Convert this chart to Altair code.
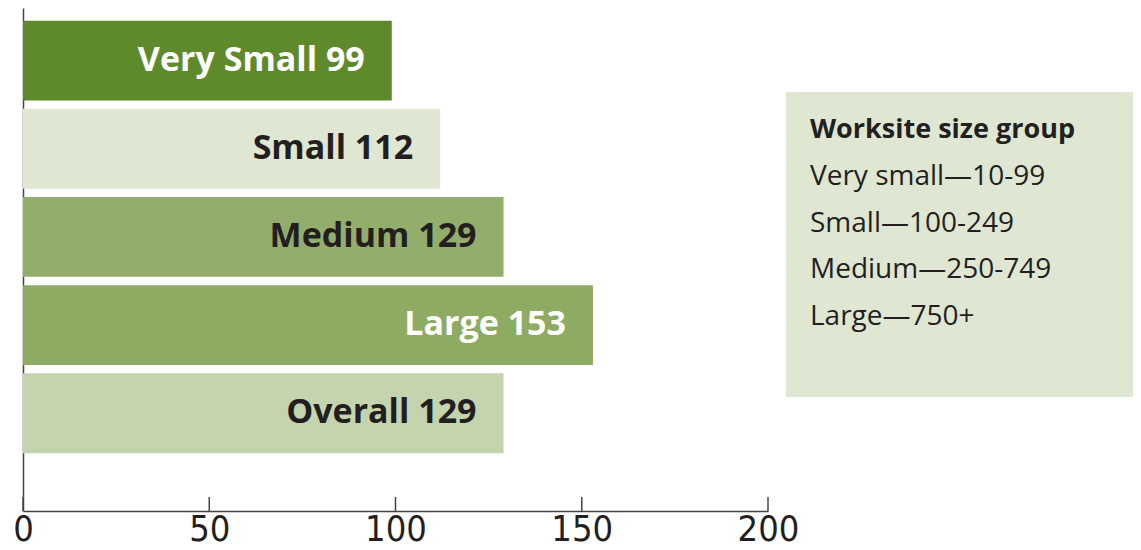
import altair as alt
import pandas as pd

categories = ["Very Small", "Small", "Medium", "Large", "Overall"]
values = [99, 112, 129, 153, 129]
bar_colors = ["#5e8a2c", "#dfe7d3", "#93ae6c", "#8dab63", "#c3d4ae"]
label_colors = ["#ffffff", "#231f20", "#231f20", "#ffffff", "#231f20"]
tick_values = [0, 50, 100, 150, 200]
legend_title = "Worksite size group"
legend_lines = ["Very small\u201410-99", "Small\u2014100-249", "Medium\u2014250-749", "Large\u2014750+"]

df = pd.DataFrame({
    "cat": categories,
    "value": values,
    "label": [f"{c} {v}" for c, v in zip(categories, values)],
    "lc": label_colors,
})
ticks_df = pd.DataFrame({"t": tick_values})

W, H = 745, 503

yscale = alt.Scale(domain=categories, paddingInner=0.094, paddingOuter=0.4, align=0.18)
xscale = alt.Scale(domain=[0, 200], nice=False)

base = alt.Chart(df)

bars = base.mark_bar().encode(
    x=alt.X("value:Q", scale=xscale,
            axis=alt.Axis(values=tick_values, ticks=False, grid=False, title=None,
                          domainColor="#444444", domainWidth=1.5,
                          labelFont="'DejaVu Sans Condensed', Roboto", labelFontSize=36,
                          labelColor="#231f20", labelPadding=1, labelFlush=False)),
    y=alt.Y("cat:N", scale=yscale,
            axis=alt.Axis(labels=False, ticks=False, title=None, grid=False,
                          domainColor="#444444", domainWidth=1.5)),
    color=alt.Color("cat:N", scale=alt.Scale(domain=categories, range=bar_colors), legend=None),
)

labels = base.mark_text(align="right", baseline="middle", dx=-27, font="Open Sans",
                        fontWeight="bold", fontSize=34).encode(
    x=alt.X("value:Q", scale=xscale),
    y=alt.Y("cat:N", scale=yscale),
    text="label:N",
    color=alt.Color("lc:N", scale=None),
)

tick_rules = alt.Chart(ticks_df).mark_rule(color="#444444", strokeWidth=1.5).encode(
    x=alt.X("t:Q", scale=xscale),
    y=alt.value(H - 14),
    y2=alt.value(H),
)

legend_box = alt.Chart(pd.DataFrame({"a": [0]})).mark_rect(color="#dfe7d3").encode(
    x=alt.value(763), x2=alt.value(1110), y=alt.value(84), y2=alt.value(389),
)

legend_head = alt.Chart(pd.DataFrame({"a": [0]})).mark_text(
    align="left", baseline="middle", font="Open Sans", fontWeight="bold", fontSize=27,
    color="#231f20").encode(
    x=alt.value(787), y=alt.value(122), text=alt.value(legend_title),
)

legend_body = alt.Chart(pd.DataFrame({"a": [0]})).mark_text(
    align="left", baseline="middle", font="Open Sans", fontSize=28, lineHeight=46.5,
    color="#231f20").encode(
    x=alt.value(787), y=alt.value(169), text=alt.value(legend_lines),
)

chart = alt.layer(legend_box, bars, labels, tick_rules, legend_head, legend_body).properties(
    width=W, height=H,
    padding={"left": 4, "top": 0, "right": 0, "bottom": 0},
    background="white",
).configure_view(stroke=None)

chart.save("out.html", embed_options={"renderer": "svg", "actions": False})
